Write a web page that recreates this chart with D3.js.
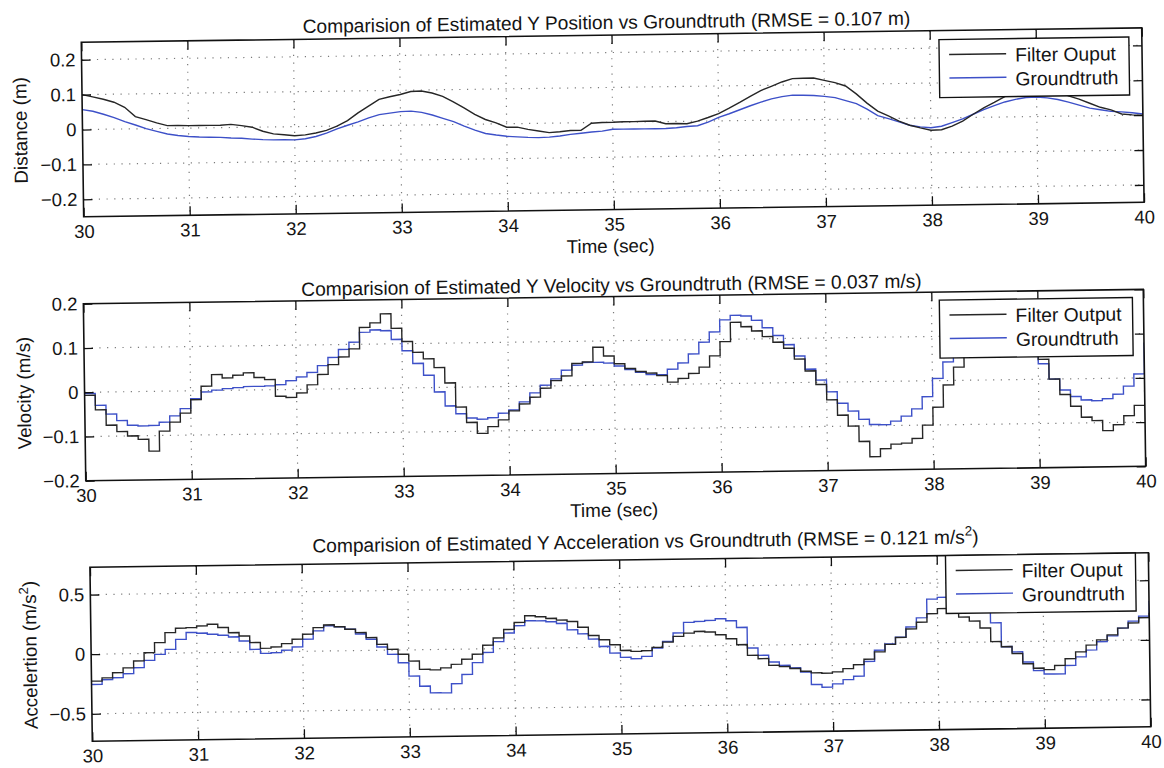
<!DOCTYPE html>
<html><head><meta charset="utf-8">
<script src="https://cdn.jsdelivr.net/npm/d3@7"></script>
<style>
html,body{margin:0;padding:0;background:#fff;}
svg{display:block;}
text{font-family:"Liberation Sans", Arial, Helvetica, sans-serif; fill:#141414;}
</style></head><body>
<svg id="chart" width="1164" height="768"></svg>
<script>
// ---------------- data ----------------
const sampleStart = 30;      // first sample time (sec)
const sampleStep = 0.1;      // sampling interval (sec)
const timeDomain = [30, 40];
const timeTicks = [30, 31, 32, 33, 34, 35, 36, 37, 38, 39, 40];

const posTicks = [-0.2, -0.1, 0, 0.1, 0.2];
const posTickLabels = ["\u22120.2", "\u22120.1", "0", "0.1", "0.2"];
const velTicks = [-0.2, -0.1, 0, 0.1, 0.2];
const velTickLabels = ["\u22120.2", "\u22120.1", "0", "0.1", "0.2"];
const accTicks = [-0.5, 0, 0.5];
const accTickLabels = ["\u22120.5", "0", "0.5"];

const posDomain = [-0.25, 0.25];
const velDomain = [-0.2, 0.2];
const accDomain = [-0.73, 0.73];

const posFilter = [
 0.100, 0.093, 0.086, 0.077, 0.062, 0.035, 0.026, 0.016, 0.008, 0.008,
 0.007, 0.007, 0.007, 0.007, 0.009, 0.005, 0.000, -0.012, -0.020, -0.023,
 -0.026, -0.024, -0.019, -0.012, 0.000, 0.015, 0.037, 0.056, 0.075, 0.082,
 0.088, 0.096, 0.097, 0.091, 0.081, 0.065, 0.047, 0.028, 0.013, 0.003,
 -0.010, -0.010, -0.017, -0.022, -0.027, -0.025, -0.022, -0.022, -0.002, 0.000,
 0.000, 0.001, 0.001, 0.002, 0.002, -0.006, -0.006, -0.007, 0.000, 0.010,
 0.021, 0.036, 0.052, 0.069, 0.085, 0.097, 0.109, 0.118, 0.119, 0.119,
 0.112, 0.105, 0.095, 0.072, 0.045, 0.022, 0.008, -0.008, -0.020, -0.028,
 -0.035, -0.034, -0.024, -0.010, 0.009, 0.027, 0.042, 0.058, 0.070, 0.080,
 0.085, 0.082, 0.074, 0.058, 0.048, 0.036, 0.024, 0.016, 0.004, 0.001,
 0.000];
const posTruth = [
 0.057, 0.052, 0.043, 0.033, 0.021, 0.011, 0.000, -0.008, -0.016, -0.021,
 -0.024, -0.026, -0.027, -0.028, -0.030, -0.031, -0.034, -0.036, -0.037, -0.037,
 -0.038, -0.035, -0.029, -0.020, -0.008, 0.002, 0.011, 0.022, 0.031, 0.035,
 0.039, 0.040, 0.036, 0.028, 0.018, 0.008, -0.005, -0.017, -0.027, -0.032,
 -0.036, -0.038, -0.040, -0.041, -0.040, -0.037, -0.033, -0.030, -0.027, -0.025,
 -0.020, -0.020, -0.020, -0.020, -0.020, -0.020, -0.018, -0.015, -0.013, -0.003,
 0.010, 0.020, 0.031, 0.042, 0.052, 0.061, 0.067, 0.071, 0.070, 0.069,
 0.066, 0.062, 0.053, 0.044, 0.028, 0.009, 0.000, -0.010, -0.020, -0.025,
 -0.028, -0.024, -0.014, -0.004, 0.009, 0.022, 0.033, 0.043, 0.050, 0.055,
 0.056, 0.053, 0.048, 0.040, 0.031, 0.022, 0.017, 0.012, 0.010, 0.007,
 0.003];

const velFilter = [
 -0.007, -0.040, -0.075, -0.090, -0.100, -0.108, -0.135, -0.090, -0.070, -0.050,
 -0.020, 0.010, 0.036, 0.028, 0.034, 0.039, 0.028, 0.023, -0.015, -0.018,
 -0.008, 0.010, 0.033, 0.055, 0.072, 0.090, 0.138, 0.148, 0.168, 0.135,
 0.105, 0.080, 0.065, 0.045, 0.010, -0.045, -0.080, -0.105, -0.090, -0.075,
 -0.055, -0.040, -0.025, -0.005, 0.012, 0.022, 0.050, 0.053, 0.086, 0.066,
 0.048, 0.037, 0.030, 0.026, 0.020, 0.005, 0.013, 0.024, 0.038, 0.063,
 0.095, 0.138, 0.128, 0.118, 0.105, 0.092, 0.078, 0.053, 0.026, -0.005,
 -0.040, -0.075, -0.100, -0.135, -0.170, -0.152, -0.142, -0.140, -0.130, -0.100,
 -0.060, -0.010, 0.030, 0.075, 0.110, 0.130, 0.140, 0.135, 0.115, 0.085,
 0.045, 0.000, -0.035, -0.062, -0.087, -0.095, -0.118, -0.105, -0.085, -0.062,
 -0.027];
const velTruth = [
 -0.003, -0.030, -0.050, -0.065, -0.076, -0.078, -0.077, -0.070, -0.056, -0.040,
 -0.018, -0.003, 0.001, 0.004, 0.006, 0.008, 0.008, 0.009, 0.011, 0.020,
 0.028, 0.038, 0.053, 0.071, 0.089, 0.105, 0.127, 0.132, 0.130, 0.110,
 0.084, 0.055, 0.028, -0.010, -0.042, -0.060, -0.070, -0.073, -0.070, -0.060,
 -0.053, -0.035, -0.015, 0.002, 0.016, 0.035, 0.046, 0.052, 0.052, 0.050,
 0.043, 0.035, 0.028, 0.023, 0.022, 0.034, 0.048, 0.068, 0.094, 0.117,
 0.144, 0.154, 0.152, 0.142, 0.125, 0.107, 0.086, 0.060, 0.030, 0.005,
 -0.022, -0.048, -0.066, -0.085, -0.097, -0.098, -0.090, -0.079, -0.063, -0.036,
 0.005, 0.042, 0.070, 0.100, 0.120, 0.130, 0.130, 0.120, 0.100, 0.070,
 0.035, 0.000, -0.025, -0.040, -0.048, -0.050, -0.046, -0.036, -0.018, 0.009,
 0.080];

const accFilter = [
 -0.226, -0.200, -0.158, -0.118, -0.062, 0.006, 0.090, 0.173, 0.208, 0.212,
 0.225, 0.238, 0.209, 0.165, 0.136, 0.079, 0.030, 0.040, 0.067, 0.102,
 0.143, 0.198, 0.219, 0.202, 0.180, 0.151, 0.108, 0.050, 0.007, -0.036,
 -0.094, -0.165, -0.170, -0.155, -0.126, -0.085, -0.044, 0.030, 0.090, 0.160,
 0.218, 0.273, 0.263, 0.248, 0.233, 0.220, 0.170, 0.100, 0.063, 0.020,
 -0.029, -0.038, -0.034, -0.007, 0.036, 0.083, 0.109, 0.122, 0.116, 0.092,
 0.057, 0.006, -0.085, -0.114, -0.171, -0.183, -0.200, -0.224, -0.239, -0.243,
 -0.233, -0.207, -0.175, -0.130, -0.070, -0.008, 0.048, 0.118, 0.174, 0.244,
 0.286, 0.250, 0.212, 0.177, 0.118, 0.003, -0.041, -0.100, -0.187, -0.225,
 -0.238, -0.205, -0.149, -0.093, -0.037, 0.005, 0.046, 0.102, 0.144, 0.186,
 0.227];
const accTruth = [
 -0.254, -0.216, -0.200, -0.167, -0.119, -0.058, -0.009, 0.032, 0.115, 0.171,
 0.164, 0.154, 0.144, 0.129, 0.094, 0.022, -0.012, -0.008, 0.011, 0.038,
 0.101, 0.170, 0.211, 0.202, 0.180, 0.140, 0.094, 0.028, -0.035, -0.107,
 -0.220, -0.306, -0.363, -0.364, -0.289, -0.212, -0.114, -0.030, 0.060, 0.130,
 0.190, 0.231, 0.229, 0.220, 0.205, 0.150, 0.115, 0.070, 0.007, -0.050,
 -0.087, -0.100, -0.081, -0.013, 0.042, 0.111, 0.199, 0.206, 0.213, 0.226,
 0.208, 0.151, -0.023, -0.086, -0.143, -0.172, -0.195, -0.230, -0.337, -0.361,
 -0.334, -0.299, -0.272, -0.150, -0.056, -0.005, 0.050, 0.135, 0.211, 0.367,
 0.380, 0.379, 0.378, 0.377, 0.260, 0.160, -0.041, -0.086, -0.172, -0.245,
 -0.275, -0.276, -0.206, -0.135, -0.079, -0.010, 0.038, 0.102, 0.159, 0.200,
 0.327];

const posTitle = [{text: "Comparision of Estimated Y Position vs Groundtruth (RMSE = 0.107 m)"}];
const velTitle = [{text: "Comparision of Estimated Y Velocity vs Groundtruth (RMSE = 0.037 m/s)"}];
const accTitle = [{text: "Comparision of Estimated Y Acceleration vs Groundtruth (RMSE = 0.121 m/s"}, {text: "2", sup: true}, {text: ")"}];
const posYLabel = [{text: "Distance (m)"}];
const velYLabel = [{text: "Velocity (m/s)"}];
const accYLabel = [{text: "Accelertion (m/s"}, {text: "2", sup: true}, {text: ")"}];
const xLabelText = "Time (sec)";
const posLegend = ["Filter Ouput", "Groundtruth"];
const velLegend = ["Filter Output", "Groundtruth"];
const accLegend = ["Filter Ouput", "Groundtruth"];

// ---------------- styling / layout ----------------
const filterColor = "#262626";
const truthColor = "#3d50c8";
const tickFont = 18.5, titleFont = 19.2, labelFont = 18.8, legendFont = 19.3;

const panels = [
  {title: posTitle, ylabel: posYLabel, domain: posDomain, ticks: posTicks, tickLabels: posTickLabels,
   filter: posFilter, truth: posTruth, legend: posLegend, stepped: false, xlabel: true,
   left: 86, right: 1146.5, top: 35.5, bottom: 210, titleX: 611.3, titleY: 29.3, ylabX: 30.5, legTop: 9, legRight: 13},
  {title: velTitle, ylabel: velYLabel, domain: velDomain, ticks: velTicks, tickLabels: velTickLabels,
   filter: velFilter, truth: velTruth, legend: velLegend, stepped: true, xlabel: true,
   left: 84.5, right: 1144.5, top: 297, bottom: 474, titleX: 612.8, titleY: 292.1, ylabX: 30.5, legTop: 8, legRight: 11},
  {title: accTitle, ylabel: accYLabel, domain: accDomain, ticks: accTicks, tickLabels: accTickLabels,
   filter: accFilter, truth: accTruth, legend: accLegend, stepped: true, xlabel: false,
   left: 87.5, right: 1146, top: 560.5, bottom: 734.5, titleX: 643.3, titleY: 548.8, ylabX: 33, legTop: 0, legRight: 13}
];

const svg = d3.select("#chart");
svg.append("rect").attr("width", 1164).attr("height", 768).attr("fill", "#fff");
// the reference is a slightly tilted scan
const root = svg.append("g").attr("transform", "rotate(-0.78 582 384)");

function addSegments(textSel, segs, size) {
  let prevSup = false;
  segs.forEach(s => {
    const ts = textSel.append("tspan").text(s.text);
    if (s.sup) { ts.attr("dy", -0.42 * size).style("font-size", (0.7 * size) + "px"); prevSup = true; }
    else if (prevSup) { ts.attr("dy", 0.42 * size); prevSup = false; }
  });
}

panels.forEach((p, pi) => {
  const g = root.append("g");
  const x = d3.scaleLinear().domain(timeDomain).range([p.left, p.right]);
  const y = d3.scaleLinear().domain(p.domain).range([p.bottom, p.top]);

  // grid
  const grid = g.append("g").attr("stroke", "#7a7a7a").attr("stroke-width", 1.2)
    .attr("stroke-dasharray", "1.2,6.5");
  grid.selectAll("line.v").data(timeTicks.filter(t => t > timeDomain[0] && t < timeDomain[1]))
    .enter().append("line")
    .attr("x1", d => x(d)).attr("x2", d => x(d)).attr("y1", p.top).attr("y2", p.bottom);
  grid.selectAll("line.h").data(p.ticks.filter(v => v > p.domain[0] && v < p.domain[1]))
    .enter().append("line")
    .attr("y1", d => y(d)).attr("y2", d => y(d)).attr("x1", p.left).attr("x2", p.right);

  // data lines
  const clipId = "clip" + pi;
  g.append("clipPath").attr("id", clipId).append("rect")
    .attr("x", p.left).attr("y", p.top).attr("width", p.right - p.left).attr("height", p.bottom - p.top);
  const line = d3.line()
    .x((d, i) => x(sampleStart + i * sampleStep))
    .y(d => y(d))
    .curve(p.stepped ? d3.curveStepAfter : d3.curveLinear);
  const lines = g.append("g").attr("clip-path", `url(#${clipId})`).attr("fill", "none");
  lines.append("path").attr("d", line(p.truth)).attr("stroke", truthColor).attr("stroke-width", 1.4);
  lines.append("path").attr("d", line(p.filter)).attr("stroke", filterColor).attr("stroke-width", 1.4);

  // axes (ticks inside on all four sides)
  const styleAxis = sel => {
    sel.select(".domain").remove();
    sel.selectAll(".tick line").attr("stroke", "#111").attr("stroke-width", 1.3);
    sel.selectAll("text").attr("font-family", null).style("font-size", tickFont + "px").attr("fill", "#141414");
  };
  g.append("g").attr("transform", `translate(0,${p.bottom})`)
    .call(d3.axisBottom(x).tickValues(timeTicks).tickFormat(d3.format("d")).tickSize(-9).tickPadding(8))
    .call(styleAxis);
  g.append("g").attr("transform", `translate(0,${p.top})`)
    .call(d3.axisTop(x).tickValues(timeTicks).tickFormat("").tickSize(-9)).call(styleAxis);
  g.append("g").attr("transform", `translate(${p.left},0)`)
    .call(d3.axisLeft(y).tickValues(p.ticks).tickFormat((d, i) => p.tickLabels[i]).tickSize(-9).tickPadding(6))
    .call(styleAxis);
  g.append("g").attr("transform", `translate(${p.right},0)`)
    .call(d3.axisRight(y).tickValues(p.ticks).tickFormat("").tickSize(-9)).call(styleAxis);

  // box
  g.append("rect").attr("x", p.left).attr("y", p.top)
    .attr("width", p.right - p.left).attr("height", p.bottom - p.top)
    .attr("fill", "none").attr("stroke", "#111").attr("stroke-width", 1.6);

  // title
  const tt = g.append("text").attr("x", p.titleX).attr("y", p.titleY)
    .attr("text-anchor", "middle").style("font-size", titleFont + "px");
  addSegments(tt, p.title, titleFont);

  // x label
  if (p.xlabel) {
    g.append("text").attr("x", 612.5).attr("y", p.bottom + 43)
      .attr("text-anchor", "middle").style("font-size", labelFont + "px").text(xLabelText);
  }
  // y label
  const yl = g.append("text")
    .attr("transform", `translate(${p.ylabX},${(p.top + p.bottom) / 2}) rotate(-90)`)
    .attr("text-anchor", "middle").style("font-size", labelFont + "px");
  addSegments(yl, p.ylabel, labelFont);

  // legend
  const lg = g.append("g");
  const box = lg.append("rect").attr("fill", "#fff").attr("stroke", "#111").attr("stroke-width", 1.4);
  const texts = p.legend.map((name, i) => lg.append("text")
    .attr("y", 23 + i * 24).style("font-size", legendFont + "px").text(name));
  const maxW = d3.max(texts, t => t.node().getComputedTextLength());
  const legW = 76 + maxW + 11, legH = 58;
  const lx = p.right - p.legRight - legW, ly = p.top + p.legTop;
  box.attr("x", lx).attr("y", ly).attr("width", legW).attr("height", legH);
  texts.forEach((t, i) => t.attr("x", lx + 76).attr("y", ly + 23 + i * 24));
  [filterColor, truthColor].forEach((c, i) => {
    lg.append("line").attr("x1", lx + 10).attr("x2", lx + 67)
      .attr("y1", ly + 15 + i * 23.5).attr("y2", ly + 15 + i * 23.5)
      .attr("stroke", c).attr("stroke-width", 1.4);
  });
});
</script>
</body></html>
